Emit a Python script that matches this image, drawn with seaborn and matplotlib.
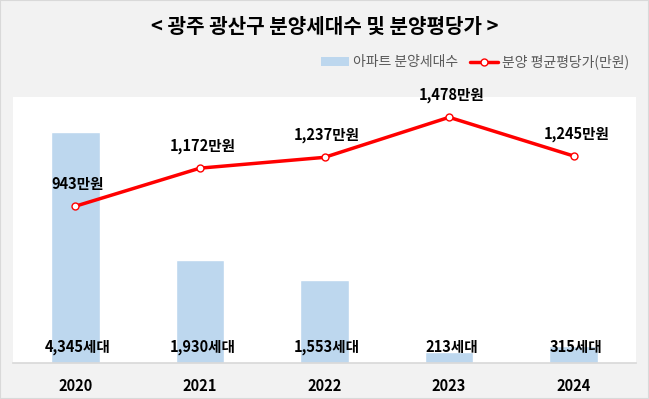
import pandas as pd
import seaborn as sns
import matplotlib.pyplot as plt
from matplotlib.lines import Line2D
from matplotlib.patches import Patch

# data
years = ['2020', '2021', '2022', '2023', '2024']
units = [4345, 1930, 1553, 213, 315]          # 분양세대수
price = [943, 1172, 1237, 1478, 1245]         # 분양 평균평당가(만원)

df = pd.DataFrame({'year': years, 'units': units, 'price': price})

sns.set_theme(style='white')
plt.rcParams['font.family'] = ['Noto Sans CJK KR', 'DejaVu Sans']

fig = plt.figure(figsize=(6.49, 3.99), dpi=100, facecolor='#f2f2f2')
ax = fig.add_axes([13/649, 36/399, 623/649, 266/399])
ax.set_facecolor('white')

sns.barplot(data=df, x='year', y='units', color='#bdd7ee', width=0.39,
            saturation=1, ax=ax)
ax.set_ylim(0, 5000)
ax.set_yticks([])
ax.set_xlabel('')
ax.set_ylabel('')
for s in ['top', 'left', 'right']:
    ax.spines[s].set_visible(False)
ax.spines['bottom'].set_color('#d9d9d9')
ax.tick_params(axis='x', length=0, pad=11)
for t in ax.get_xticklabels():
    t.set_fontweight('bold')
    t.set_fontsize(10.5)
    t.set_color('black')

for i, v in enumerate(units):
    ax.text(i + 0.02, 300, f'{v:,}세대', ha='center', va='center', fontsize=10.5,
            fontweight='bold', color='black')

ax2 = ax.twinx()
sns.lineplot(data=df, x='year', y='price', color='#ff0000', linewidth=2.5,
             marker='o', markersize=5, markerfacecolor='white',
             markeredgecolor='#ff0000', markeredgewidth=1, ax=ax2)
ax2.set_ylim(0, 1600)
ax2.set_yticks([])
ax2.set_ylabel('')
for s in ['top', 'left', 'right', 'bottom']:
    ax2.spines[s].set_visible(False)
for i, v in enumerate(price):
    ax2.text(i + 0.02, v + 135, f'{v:,}만원', ha='center', va='center', fontsize=10.5,
             fontweight='bold', color='black')
ax.set_xlim(-0.5, 4.5)

fig.text(0.5, 1 - 26/399, '< 광주 광산구 분양세대수 및 분양평당가 >', ha='center',
         va='center', fontsize=14.5, fontweight='bold', color='black')

handles = [Patch(facecolor='#bdd7ee', edgecolor='none'),
           Line2D([0], [0], color='#ff0000', lw=2.5, marker='o', markersize=5,
                  markerfacecolor='white', markeredgecolor='#ff0000')]
fig.legend(handles, ['아파트 분양세대수', '분양 평균평당가(만원)'],
           loc='center right', bbox_to_anchor=(642/649, 1 - 62/399), ncol=2,
           frameon=False, fontsize=10, labelcolor='#595959', handlelength=2.0,
           handletextpad=0.3, columnspacing=0.9)

# outer border
fig.patches.append(plt.Rectangle((0, 0), 1, 1, transform=fig.transFigure,
                                 fill=False, edgecolor='#d9d9d9', lw=1.5))

fig.savefig('out.png', dpi=100, facecolor=fig.get_facecolor())
